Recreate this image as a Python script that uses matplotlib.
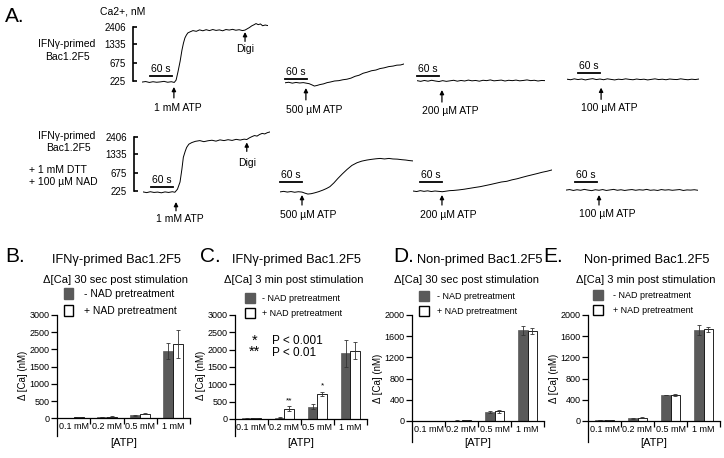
import matplotlib.pyplot as plt
import numpy as np
from matplotlib.patches import Patch

plt.rcParams["font.family"] = ["Liberation Sans", "DejaVu Sans"]

W, H = 724, 458
SX = 22 / 60  # px per second in the traces
SY = 18  # px per calibration step in the traces
GRAY = "#5a5a5a"

# Panel A: Fura traces, time (s) vs ratio steps (0 = 225 nM ... 3 = 2406 nM)
ca_ticks = [0, 1, 2.05, 3]
ca_labels = ["225", "675", "1335", "2406"]

t1 = [0, 10, 20, 30, 40, 50, 60, 70, 80, 88, 93, 98, 104, 109, 113, 117, 121, 125, 131, 139,
      148, 157, 166, 175, 184, 193, 202, 211, 220, 229, 238, 247, 256, 265, 274,
      281, 287, 293, 299, 305, 311, 317, 323, 329, 336, 343]
v1 = [-0.06, -0.03, -0.08, -0.04, -0.07, -0.05, -0.02, -0.07, -0.04, -0.08, 0.05, 0.5, 1.1, 1.72,
      2.1, 2.39, 2.55, 2.67, 2.73, 2.8,
      2.76, 2.84, 2.79, 2.85, 2.8, 2.86, 2.81, 2.84, 2.79, 2.86, 2.83, 2.87, 2.82, 2.85, 2.8,
      2.83, 2.9, 2.97, 3.06, 3.12, 3.19, 3.13, 3.17, 3.07, 3.11, 3.08]

t2 = [0, 10, 20, 30, 40, 50, 58, 66, 74, 80, 87, 95, 105, 115, 123, 135, 147, 158, 169, 180,
      191, 202, 213, 224, 236, 248, 259, 270, 283, 295, 305, 315, 325]
v2 = [-0.1, -0.07, -0.12, -0.08, -0.11, -0.09, -0.12, -0.15, -0.22, -0.28, -0.25, -0.2, -0.16,
      -0.09, -0.06, 0.0, 0.02, 0.07, 0.1, 0.16, 0.26, 0.32, 0.43, 0.49, 0.57, 0.61, 0.69, 0.73,
      0.8, 0.83, 0.88, 0.89, 0.95]

t3 = np.arange(0, 360, 10)
v3 = [0.02, -0.02, 0.03, -0.01, 0.04, 0.0,
      -0.03, 0.02, -0.02, 0.01, 0.04, -0.01,
      0.03, 0.0, 0.05, 0.01, 0.03, -0.01,
      0.04, 0.02, 0.06, 0.01, 0.03, 0.05,
      0.0, 0.04, 0.02, 0.05, 0.01, 0.03,
      0.06, 0.02, 0.04, 0.0, 0.03, 0.02]

t4 = np.arange(0, 370, 10)
v4 = [0.1, 0.07, 0.12, 0.08, 0.11, 0.06,
      0.1, 0.13, 0.08, 0.11, 0.07, 0.12,
      0.09, 0.06, 0.1, 0.08, 0.12, 0.09,
      0.07, 0.11, 0.08, 0.1, 0.06, 0.09,
      0.12, 0.08, 0.1, 0.07, 0.11, 0.09,
      0.08, 0.12, 0.09, 0.07, 0.1, 0.08, 0.11]

t5 = [0, 10, 20, 30, 40, 50, 60, 70, 80, 87, 94, 101, 106, 110, 115, 119, 125, 133,
      143, 155, 166, 177, 188, 199, 210, 221, 232, 243, 254, 265, 276,
      283, 290, 297, 304, 311, 318, 325, 332, 339, 346]
v5 = [-0.05, -0.09, -0.04, -0.08, -0.06, -0.1, -0.05, -0.08, -0.04, -0.07, 0.1, 0.5, 1.2, 1.87,
      2.2, 2.42, 2.6, 2.69,
      2.76, 2.8, 2.74, 2.79, 2.82, 2.77, 2.84, 2.8, 2.85, 2.81, 2.87, 2.83, 2.88,
      2.86, 2.95, 3.02, 3.08, 3.05, 3.14, 3.2, 3.17, 3.24, 3.28]

t6 = [0, 10, 20, 30, 40, 50, 60, 68, 76, 85, 95, 105, 117, 127, 136, 147, 158, 170, 183, 196,
      210, 223, 237, 250, 262, 273, 285, 297, 308, 320, 332, 343, 353, 363]
v6 = [-0.05, -0.02, -0.06, -0.03, -0.07, -0.04, -0.06, -0.12, -0.17, -0.15, -0.1, -0.04,
      0.05, 0.14, 0.24, 0.45, 0.7, 0.95, 1.2, 1.42,
      1.57, 1.66, 1.72, 1.76, 1.79, 1.81, 1.78, 1.81, 1.78, 1.77, 1.74, 1.72, 1.69, 1.67]

t7 = [0, 10, 20, 30, 40, 50, 60, 70, 80, 90, 100, 110,
      125, 140, 155, 170, 183, 197, 211, 226, 241, 256, 270, 284, 298, 311, 325, 339, 352, 366, 379]
v7 = [0.0, -0.03, 0.02, -0.02, 0.01, -0.03, 0.0, -0.02, -0.04, -0.01, 0.02, 0.03,
      0.06, 0.1, 0.15, 0.2, 0.24, 0.3, 0.36, 0.43, 0.5, 0.54, 0.62, 0.68, 0.76, 0.83, 0.9,
      0.97, 1.04, 1.1, 1.17]

t8 = np.arange(0, 370, 10)
v8 = [0.05, 0.08, 0.03, 0.07, 0.04, 0.09,
      0.05, 0.02, 0.07, 0.04, 0.08, 0.03,
      0.06, 0.09, 0.04, 0.07, 0.03, 0.06,
      0.08, 0.04, 0.07, 0.05, 0.09, 0.04,
      0.06, 0.03, 0.08, 0.05, 0.07, 0.04,
      0.06, 0.08, 0.03, 0.06, 0.05, 0.07, 0.04]

# Panels B-E: delta [Ca] (nM) per ATP dose
atp_labels = ["0.1 mM", "0.2 mM", "0.5 mM", "1 mM"]

b_minus = [15, 40, 85, 1950]
b_minus_err = [5, 10, 10, 230]
b_plus = [25, 45, 135, 2150]
b_plus_err = [5, 10, 15, 400]

c_minus = [15, 35, 355, 1890]
c_minus_err = [5, 10, 70, 400]
c_plus = [15, 290, 730, 1970]
c_plus_err = [5, 70, 55, 250]
c_stars = ["", "**", "*", ""]

d_minus = [0, 8, 170, 1710]
d_minus_err = [0, 3, 10, 90]
d_plus = [0, 18, 185, 1700]
d_plus_err = [0, 8, 25, 55]

e_minus = [12, 50, 490, 1717]
e_minus_err = [2, 10, 5, 95]
e_plus = [12, 63, 495, 1730]
e_plus_err = [2, 15, 15, 45]


def px_axes(fig, left, top, right, bottom):
    return fig.add_axes([left / W, 1 - bottom / H, (right - left) / W, (bottom - top) / H])


def ftext(fig, x, y, s, **kw):
    fig.text(x / W, 1 - y / H, s, **kw)


def trace(fig, x0, base, t, v, bar_t0, bar_y, stim_t, tip, tail, label, lab_t, lab_y, lab_ha="left"):
    dur = t[-1]
    ax = px_axes(fig, x0, base - 3.6 * SY, x0 + dur * SX, base + 1.0 * SY)
    ax.set_xlim(0, dur)
    ax.set_ylim(-1, 3.6)
    ax.patch.set_visible(False)
    for s in ax.spines.values():
        s.set_visible(False)
    ax.set_xticks([])
    ax.set_yticks([])
    ax.plot(t, v, color="k", lw=0.7)
    # 60 s scale bar
    ax.plot([bar_t0, bar_t0 + 60], [bar_y, bar_y], color="k", lw=1.3, clip_on=False)
    ax.text(bar_t0 + 30, bar_y + 0.12, "60 s", ha="center", va="bottom", fontsize=7.5)
    ax.annotate("", xy=(stim_t, tip), xytext=(stim_t, tail), annotation_clip=False,
                arrowprops=dict(arrowstyle="-|>", color="k", lw=0.9, mutation_scale=6,
                                shrinkA=0, shrinkB=0))
    ax.text(lab_t, lab_y, label, ha=lab_ha, va="center", fontsize=7.5, clip_on=False)
    return ax


def calib(ax):
    sp = ax.spines["left"]
    sp.set_visible(True)
    sp.set_bounds(0, 3)
    sp.set_position(("outward", 6.5))
    sp.set_linewidth(1.2)
    ax.set_yticks(ca_ticks, ca_labels)
    ax.tick_params(axis="y", direction="in", length=3, width=1.2, labelsize=7, pad=5)


def digi(ax, t, tip, tail, text_y):
    ax.annotate("", xy=(t, tip), xytext=(t, tail), annotation_clip=False,
                arrowprops=dict(arrowstyle="-|>", color="k", lw=0.9, mutation_scale=6,
                                shrinkA=0, shrinkB=0))
    ax.text(t, text_y, "Digi", ha="center", va="center", fontsize=7.5)


def bar_panel(fig, box, minus, minus_err, plus, plus_err, ymin, ymax, ystep, leg_xy, leg_fs,
              leg_hl, leg_hh, leg_pad, leg_sp, xpad):
    ax = px_axes(fig, *box)
    x = np.arange(len(atp_labels))
    ekw = dict(ecolor="#333333", elinewidth=0.6, capsize=1.5, capthick=0.6)
    ax.bar(x - 0.15, minus, 0.3, yerr=minus_err, color=GRAY, edgecolor=GRAY, lw=0.5, error_kw=ekw)
    ax.bar(x + 0.15, plus, 0.3, yerr=plus_err, color="white", edgecolor="black", lw=0.6, error_kw=ekw)
    ax.set_xlim(-0.5, 3.5)
    ax.set_ylim(ymin, ymax)
    ax.patch.set_visible(False)
    ax.spines["top"].set_visible(False)
    ax.spines["right"].set_visible(False)
    ax.spines["bottom"].set_position(("data", 0))
    ax.spines["left"].set_linewidth(0.9)
    ax.spines["bottom"].set_linewidth(0.9)
    ax.set_yticks(np.arange(0, ymax + 1, ystep))
    ax.set_xticks(x, atp_labels)
    ax.set_xticks([0.5, 1.5, 2.5, 3.5], minor=True)
    ax.tick_params(axis="x", which="major", length=0, labelsize=6.5, pad=3)
    ax.tick_params(axis="x", which="minor", length=4, width=0.9, direction="out")
    ax.tick_params(axis="y", length=4, width=0.9, labelsize=6.5, pad=1.5)
    ax.set_xlabel("[ATP]", fontsize=8, labelpad=xpad)
    ax.set_ylabel("Δ [Ca] (nM)", fontsize=7, labelpad=1)
    handles = [Patch(facecolor=GRAY, edgecolor=GRAY),
               Patch(facecolor="white", edgecolor="black", lw=1.0)]
    ax.legend(handles, ["- NAD pretreatment", "+ NAD pretreatment"], loc="upper left",
              bbox_to_anchor=(leg_xy[0] / W, 1 - leg_xy[1] / H), bbox_transform=fig.transFigure,
              frameon=False, borderpad=0, borderaxespad=0, fontsize=leg_fs,
              handlelength=leg_hl, handleheight=leg_hh, handletextpad=leg_pad, labelspacing=leg_sp)
    return ax


def main():
    fig = plt.figure(figsize=(W / 100, H / 100), dpi=100)

    # ---- Panel A
    ftext(fig, 5, 16, "A.", fontsize=15, va="center")
    ftext(fig, 123, 12, "Ca2+, nM", fontsize=7.5, ha="center", va="center")
    ftext(fig, 67, 44, "IFNγ-primed", fontsize=7.5, ha="center", va="center")
    ftext(fig, 67, 57, "Bac1.2F5", fontsize=7.5, ha="center", va="center")
    ftext(fig, 67, 136, "IFNγ-primed", fontsize=7.5, ha="center", va="center")
    ftext(fig, 68, 148, "Bac1.2F5", fontsize=7.5, ha="center", va="center")
    ftext(fig, 29, 170, "+ 1 mM DTT", fontsize=7.5, va="center")
    ftext(fig, 29, 182, "+ 100 µM NAD", fontsize=7.5, va="center")

    ax = trace(fig, 142, 81, t1, v1, 22, 0.28, 87, -0.33, -0.94, "1 mM ATP", 99, -1.5, "center")
    calib(ax)
    digi(ax, 281, 2.72, 2.2, 1.78)
    trace(fig, 285, 81, t2, v2, 0, 0.11, 57, -0.39, -1.05, "500 µM ATP", 3, -1.6)
    trace(fig, 417, 81, t3, v3, 0, 0.28, 68, -0.5, -1.17, "200 µM ATP", 14, -1.65)
    trace(fig, 567, 81, t4, v4, 30, 0.43, 93, -0.37, -1.02, "100 µM ATP", 38, -1.52)

    ax = trace(fig, 143, 191, t5, v5, 22, 0.22, 90, -0.61, -1.1, "1 mM ATP", 101, -1.55, "center")
    calib(ax)
    digi(ax, 283, 2.7, 2.2, 1.55)
    trace(fig, 280, 191, t6, v6, 0, 0.48, 60, -0.22, -0.78, "500 µM ATP", 0, -1.33)
    trace(fig, 413, 191, t7, v7, 18, 0.5, 79, -0.22, -0.78, "200 µM ATP", 19, -1.33)
    trace(fig, 566, 191, t8, v8, 25, 0.5, 90, -0.22, -0.78, "100 µM ATP", 36, -1.28)

    # ---- Panels B-E
    for letter, lx, title, tx, sub, sx in [
        ("B.", 5, "IFNγ-primed Bac1.2F5", 116, "Δ[Ca] 30 sec post stimulation", 115),
        ("C.", 200, "IFNγ-primed Bac1.2F5", 297, "Δ[Ca] 3 min post stimulation", 294),
        ("D.", 393, "Non-primed Bac1.2F5", 480, "Δ[Ca] 30 sec post stimulation", 466),
        ("E.", 543, "Non-primed Bac1.2F5", 647, "Δ[Ca] 3 min post stimulation", 646),
    ]:
        ftext(fig, lx, 257, letter, fontsize=15, va="center")
        ftext(fig, tx, 260, title, fontsize=9.3, ha="center", va="center")
        ftext(fig, sx, 280, sub, fontsize=8, ha="center", va="center")

    bar_panel(fig, (57, 315, 190, 435.5), b_minus, b_minus_err, b_plus, b_plus_err,
              -500, 3000, 500, (64, 288), 7.5, 0.87, 1.25, 1.05, 0.58, 5)
    ax = bar_panel(fig, (235, 315, 367, 436.3), c_minus, c_minus_err, c_plus, c_plus_err,
                   -500, 3000, 500, (245, 293), 6.5, 1.1, 1.33, 0.8, 0.55, 4.5)
    for i, s in enumerate(c_stars):
        if s:
            ax.text(i + 0.15, c_plus[i] + c_plus_err[i] + 60, s, ha="center", va="bottom", fontsize=6)
    ax.text(0.15, 0.74, "*\n**", transform=ax.transAxes, ha="center", va="center",
            fontsize=10.5, linespacing=0.75)
    ax.text(0.28, 0.74, "P < 0.001\nP < 0.01", transform=ax.transAxes, ha="left", va="center",
            fontsize=8.5, linespacing=1.0)

    bar_panel(fig, (412, 315, 544, 442.2), d_minus, d_minus_err, d_plus, d_plus_err,
              -400, 2000, 400, (419, 291), 6.5, 1.1, 1.33, 0.9, 0.55, 3)
    bar_panel(fig, (588, 315, 720, 442.2), e_minus, e_minus_err, e_plus, e_plus_err,
              -400, 2000, 400, (593, 290), 6.5, 1.1, 1.33, 1.1, 0.55, 3)

    fig.savefig("out.png", dpi=100)
    plt.close(fig)


if __name__ == "__main__":
    main()
